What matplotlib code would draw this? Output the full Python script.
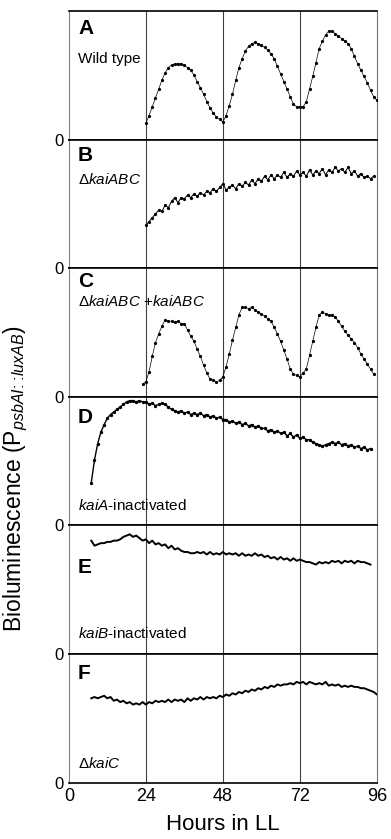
import matplotlib
matplotlib.use("Agg")
import matplotlib.pyplot as plt

plt.rcParams['font.family'] = ['Liberation Sans', 'DejaVu Sans']
plt.rcParams['mathtext.fontset'] = 'custom'
plt.rcParams['mathtext.rm'] = 'Liberation Sans'
plt.rcParams['mathtext.it'] = 'Liberation Sans:italic'

# hours in constant light (LL)
hours_a = list(range(24, 97))
hours_b = list(range(24, 96))
hours_c = list(range(23, 96))
hours_d = list(range(7, 95))
hours_e = list(range(7, 95))
hours_f = list(range(7, 97))

# relative bioluminescence (0 = panel bottom, 1 = panel top)
wild_type = [0.13, 0.19, 0.26, 0.33, 0.40, 0.47, 0.53, 0.57, 0.59, 0.60, 0.60, 0.60,
             0.59, 0.57, 0.55, 0.51, 0.46, 0.41, 0.36, 0.30, 0.25, 0.21, 0.18, 0.16,
             0.14, 0.19, 0.27, 0.36, 0.47, 0.57, 0.64, 0.70, 0.74, 0.76, 0.77, 0.76,
             0.75, 0.73, 0.71, 0.68, 0.64, 0.58, 0.52, 0.46, 0.40, 0.34, 0.28, 0.26,
             0.26, 0.26, 0.30, 0.40, 0.50, 0.61, 0.72, 0.78, 0.83, 0.86, 0.86, 0.84,
             0.82, 0.80, 0.78, 0.76, 0.72, 0.66, 0.60, 0.55, 0.50, 0.45, 0.39, 0.34,
             0.31]
kaiabc_del = [0.34, 0.37, 0.40, 0.43, 0.46, 0.45, 0.50, 0.48, 0.53, 0.56, 0.52, 0.56,
              0.55, 0.58, 0.56, 0.59, 0.57, 0.60, 0.58, 0.61, 0.60, 0.63, 0.61, 0.64,
              0.67, 0.62, 0.64, 0.66, 0.63, 0.67, 0.65, 0.68, 0.66, 0.70, 0.67, 0.71,
              0.69, 0.73, 0.70, 0.74, 0.71, 0.74, 0.72, 0.76, 0.72, 0.75, 0.73, 0.77,
              0.74, 0.76, 0.73, 0.78, 0.74, 0.77, 0.75, 0.79, 0.74, 0.78, 0.76, 0.80,
              0.77, 0.79, 0.76, 0.80, 0.75, 0.77, 0.73, 0.75, 0.72, 0.73, 0.71, 0.73]
kaiabc_rescue = [0.10, 0.12, 0.20, 0.32, 0.43, 0.50, 0.56, 0.61, 0.60, 0.60, 0.59, 0.60,
                 0.58, 0.58, 0.53, 0.48, 0.44, 0.38, 0.32, 0.25, 0.19, 0.14, 0.13, 0.12,
                 0.13, 0.16, 0.24, 0.34, 0.45, 0.55, 0.65, 0.71, 0.71, 0.70, 0.71, 0.69,
                 0.67, 0.66, 0.64, 0.62, 0.60, 0.55, 0.50, 0.44, 0.37, 0.30, 0.22, 0.18,
                 0.17, 0.16, 0.19, 0.22, 0.33, 0.44, 0.55, 0.65, 0.67, 0.66, 0.65, 0.65,
                 0.63, 0.60, 0.56, 0.52, 0.49, 0.46, 0.43, 0.39, 0.34, 0.30, 0.26, 0.22,
                 0.18]
kaia_inact = [0.34, 0.52, 0.65, 0.74, 0.80, 0.85, 0.88, 0.90, 0.92, 0.94, 0.96, 0.98,
              0.99, 0.99, 0.98, 0.99, 0.98, 0.98, 0.96, 0.97, 0.95, 0.96, 0.97, 0.96,
              0.94, 0.92, 0.91, 0.90, 0.91, 0.89, 0.90, 0.88, 0.89, 0.88, 0.89, 0.87,
              0.88, 0.86, 0.87, 0.85, 0.86, 0.84, 0.84, 0.82, 0.83, 0.81, 0.82, 0.80,
              0.81, 0.79, 0.80, 0.78, 0.79, 0.77, 0.77, 0.75, 0.76, 0.74, 0.75, 0.73,
              0.74, 0.71, 0.73, 0.70, 0.72, 0.69, 0.70, 0.68, 0.68, 0.66, 0.65, 0.64,
              0.63, 0.64, 0.65, 0.66, 0.65, 0.66, 0.64, 0.65, 0.63, 0.64, 0.62, 0.63,
              0.61, 0.62, 0.60, 0.61]
kaib_inact = [0.90, 0.86, 0.87, 0.88, 0.88, 0.89, 0.89, 0.90, 0.90, 0.91, 0.93, 0.94,
              0.95, 0.93, 0.94, 0.92, 0.90, 0.91, 0.88, 0.90, 0.87, 0.88, 0.86, 0.87,
              0.84, 0.86, 0.83, 0.84, 0.82, 0.81, 0.81, 0.80, 0.80, 0.81, 0.80, 0.81,
              0.79, 0.81, 0.79, 0.80, 0.79, 0.81, 0.79, 0.80, 0.79, 0.80, 0.78, 0.80,
              0.78, 0.79, 0.78, 0.80, 0.78, 0.79, 0.77, 0.78, 0.76, 0.77, 0.75, 0.77,
              0.75, 0.76, 0.74, 0.76, 0.74, 0.75, 0.74, 0.73, 0.73, 0.72, 0.71, 0.73,
              0.72, 0.73, 0.72, 0.74, 0.73, 0.74, 0.72, 0.74, 0.73, 0.74, 0.72, 0.74,
              0.73, 0.73, 0.72, 0.71]
kaic_del = [0.67, 0.68, 0.67, 0.68, 0.69, 0.67, 0.68, 0.65, 0.66, 0.64, 0.65, 0.63,
            0.64, 0.62, 0.63, 0.62, 0.64, 0.62, 0.64, 0.63, 0.65, 0.64, 0.65, 0.64,
            0.66, 0.64, 0.66, 0.65, 0.66, 0.64, 0.67, 0.65, 0.67, 0.66, 0.68, 0.66,
            0.68, 0.67, 0.68, 0.67, 0.69, 0.68, 0.70, 0.69, 0.71, 0.70, 0.72, 0.71,
            0.73, 0.72, 0.74, 0.73, 0.75, 0.74, 0.76, 0.75, 0.77, 0.76, 0.78, 0.77,
            0.78, 0.78, 0.79, 0.78, 0.80, 0.79, 0.80, 0.78, 0.80, 0.79, 0.78, 0.79,
            0.78, 0.80, 0.77, 0.78, 0.77, 0.78, 0.76, 0.77, 0.76, 0.77, 0.76, 0.76,
            0.75, 0.75, 0.74, 0.73, 0.72, 0.70]

panels = [
    ("A", "Wild type", hours_a, wild_type),
    ("B", r"$\Delta\mathit{kaiABC}$", hours_b, kaiabc_del),
    ("C", r"$\Delta\mathit{kaiABC}\ \mathregular{+}\mathit{kaiABC}$", hours_c, kaiabc_rescue),
    ("D", r"$\mathit{kaiA}$-inactivated", hours_d, kaia_inact),
    ("E", r"$\mathit{kaiB}$-inactivated", hours_e, kaib_inact),
    ("F", r"$\Delta\mathit{kaiC}$", hours_f, kaic_del),
]

# line look per panel: (line width, marker size)
styles = [(0.5, 1.3), (0.7, 1.3), (0.5, 1.3), (1.0, 1.4), (1.4, 0), (1.4, 0)]

# where the letter and the strain name sit inside each panel (axes fraction)
letter_y = [0.94, 0.95, 0.97, 0.91, 0.75, 0.92]
name_y = [0.68, 0.75, 0.80, 0.10, 0.10, 0.09]
name_va = ["top", "top", "top", "bottom", "bottom", "bottom"]

fig, axes = plt.subplots(6, 1, figsize=(3.91, 8.39), dpi=100, sharex=True)
fig.subplots_adjust(left=0.176, right=0.964, top=0.987, bottom=0.067, hspace=0)

for i, (ax, (letter, name, x, y)) in enumerate(zip(axes, panels)):
    for h in (24, 48, 72):
        ax.axvline(h, color="0.25", lw=0.8, zorder=1)
    lw, ms = styles[i]
    if ms > 0:
        ax.plot(x, y, color="k", lw=lw, marker="o", ms=ms, zorder=3)
    else:
        ax.plot(x, y, color="k", lw=lw, zorder=3)
    ax.set_xlim(0, 96)
    ax.set_ylim(0, 1.02)
    ax.set_yticks([0])
    ax.set_yticklabels(["0"], fontsize=12)
    ax.tick_params(axis="both", length=0, pad=4)
    for side in ("top", "bottom"):
        ax.spines[side].set_linewidth(1.2)
        ax.spines[side].set_color("k")
    ax.spines["left"].set_color("0.5")
    ax.spines["left"].set_linewidth(0.8)
    ax.spines["right"].set_color("0.45")
    ax.spines["right"].set_linewidth(0.8)
    ax.text(0.03, letter_y[i], letter, transform=ax.transAxes, fontsize=15,
            fontweight="bold", va="top", ha="left")
    ax.text(0.03, name_y[i], name, transform=ax.transAxes, fontsize=11,
            va=name_va[i], ha="left")

axes[-1].set_xticks([0, 24, 48, 72, 96])
axes[-1].set_xticklabels(["0", "24", "48", "72", "96"], fontsize=13)
axes[-1].set_xlabel("Hours in LL", fontsize=16, labelpad=6)

fig.text(0.04, 0.43,
         r"Bioluminescence (P$_{\mathit{psbAI}\!:\!:\!\mathit{luxAB}}$)",
         rotation=90, va="center", ha="center", fontsize=16.5)

fig.savefig("out.png", dpi=100)
